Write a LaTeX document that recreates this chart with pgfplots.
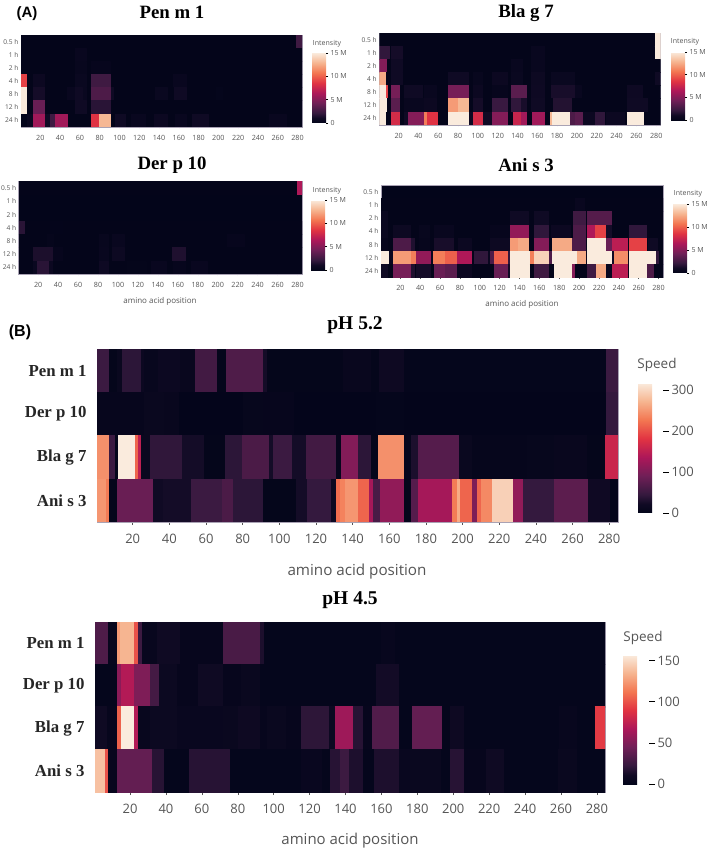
\documentclass[border=0pt]{standalone}
\usepackage{fontspec}
\setmainfont{Open Sans}
\newfontfamily\ttl{Liberation Serif}
\newfontfamily\pnl{Liberation Sans}
\usepackage{pgfplots}
\pgfplotsset{compat=1.18}

\definecolor{tk}{HTML}{555555}
\definecolor{frm}{HTML}{A9A2B4}
\definecolor{bg0}{RGB}{3,5,26}

\pgfplotsset{
  colormap={rocket}{rgb255(0cm)=(3,5,26) rgb255(0.7cm)=(16,10,36) rgb255(1.43cm)=(53,25,62) rgb255(2.86cm)=(112,31,87) rgb255(4.29cm)=(173,23,89)
    rgb255(5.71cm)=(225,51,66) rgb255(7.14cm)=(243,118,81) rgb255(8.57cm)=(246,180,143) rgb255(10cm)=(250,235,221)},
  heat/.style={
    scale only axis, y dir=reverse, axis background/.style={fill=bg0},
    xmin=0.5, xmax=284.5,
    xtick={20,40,...,280}, tick pos=bottom, tick align=outside,
    axis line style={frm, line width=0.7pt},
    x tick style={tk, line width=0.5pt}, y tick style={draw=none},
    /pgf/number format/assume math mode=true,
    /pgf/number format/1000 sep={},
    tick label style={text=tk},
    point meta=explicit, colorbar,
  },
  small/.style={
    heat, ymin=-0.5, ymax=6.5, ytick={0,...,6},
    yticklabels={0.5 h,1 h,2 h,4 h,8 h,12 h,24 h},
    x tick label style={font=\fontsize{7.2}{8}\selectfont},
    y tick label style={font=\fontsize{6.6}{8}\selectfont},
    major tick length=1.5pt, xticklabel shift=3pt, yticklabel shift=-2.5pt,
    point meta min=0, point meta max=15,
    row/.style={mesh, shader=flat corner, line width=13.6pt, forget plot},
  },
  big/.style={
    heat, ymin=-0.5, ymax=3.5, ytick={0,...,3},
    yticklabels={Pen m 1,Der p 10,Bla g 7,Ani s 3},
    x tick label style={font=\fontsize{13}{14}\selectfont},
    y tick label style={font=\ttl\bfseries\fontsize{16.8}{18}\selectfont, text=black!85},
    major tick length=3pt, yticklabel shift=4pt, xticklabel shift=5.5pt,
    row/.style={mesh, shader=flat corner, line width=43.6pt, forget plot},
  },
  smallbar/.style={
    scale only axis, width=14pt, axis line style={draw=none},
    ytick={0,5,10,15}, yticklabels={0,5 M,10 M,15 M},
    tick label style={font=\fontsize{7}{8}\selectfont, text=tk},
    ytick pos=right, tick align=outside,
    y tick style={black, line width=0.5pt}, major tick length=2pt, yticklabel shift=-1pt,
  },
  bigbar/.style={
    scale only axis, axis line style={draw=none},
    tick label style={font=\fontsize{13}{14}\selectfont, text=tk},
    /pgf/number format/assume math mode=true,
    ytick pos=right, tick align=outside,
    y tick style={black, line width=0.8pt}, major tick length=6pt,
    yticklabel shift=-1pt,
  },
}

\begin{document}
\begin{tikzpicture}[x=1pt,y=1pt]
\path[use as bounding box] (0,0) rectangle (709,850);

% Panel A: Pen m 1
\begin{axis}[small, at={(21pt,723pt)}, width=281pt, height=92pt,
  colorbar style={smallbar, at={(1.0356,0.0435)}, anchor=south west, height=70pt}]
\addplot[row] coordinates {(0.5,0)[0.05] (278,0)[2.5] (285,0)[2.5]};
\addplot[row] coordinates {(0.5,1)[0.05] (55,1)[0.5] (67,1)[0.05] (285,1)[0.05]};
\addplot[row] coordinates {(0.5,2)[0.05] (55,2)[0.4] (67,2)[0.05] (71,2)[0.3] (91,2)[0.05] (285,2)[0.05]};
\addplot[row] coordinates {(0.5,3)[9] (7,3)[0.05] (13,3)[0.7] (25,3)[0.05] (55,3)[0.6] (67,3)[0.05] (71,3)[2.5] (91,3)[0.05] (154,3)[0.5] (168,3)[0.05] (285,3)[0.05]};
\addplot[row] coordinates {(0.5,4)[15] (7,4)[0.05] (13,4)[1.2] (25,4)[0.05] (47,4)[0.5] (55,4)[1] (63,4)[0.6] (67,4)[0.05] (71,4)[3] (91,4)[1] (94,4)[0.05] (136,4)[0.6] (149,4)[0.05] (155,4)[1] (168,4)[0.05] (198,4)[0.2] (205,4)[0.05] (285,4)[0.05]};
\addplot[row] coordinates {(0.5,5)[15] (7,5)[0.05] (13,5)[4] (25,5)[0.05] (55,5)[1] (67,5)[0.05] (71,5)[1.8] (91,5)[0.05] (285,5)[0.05]};
\addplot[row] coordinates {(0.5,6)[0.1] (7,6)[0.6] (13,6)[6] (25,6)[1] (30,6)[2.5] (35,6)[6] (47.5,6)[0.05] (71,6)[8.5] (79.5,6)[13] (91,6)[0.05] (95.5,6)[1] (107,6)[0.05] (112,6)[0.5] (127,6)[0.05] (135,6)[0.7] (149,6)[0.05] (156,6)[0.5] (168,6)[0.05] (173,6)[1] (190,6)[0.05] (251,6)[0.5] (269,6)[0.05] (285,6)[0.05]};
\end{axis}

% Panel A: Bla g 7
\begin{axis}[small, at={(379.3pt,725pt)}, width=281.4pt, height=92pt,
  colorbar style={smallbar, at={(1.0366,0.054)}, anchor=south west, height=68pt}]
\addplot[row] coordinates {(0.5,0)[0.05] (278.4,0)[15] (285,0)[15]};
\addplot[row] coordinates {(0.5,1)[2] (11,1)[0.05] (12.6,1)[1.2] (24.4,1)[0.05] (154,1)[0.5] (168,1)[0.05] (278.4,1)[15] (285,1)[15]};
\addplot[row] coordinates {(0.5,2)[5] (8.3,2)[0.05] (12.6,2)[1] (24.4,2)[0.05] (133.4,2)[0.5] (146,2)[0.05] (154,2)[0.5] (168,2)[0.05] (285,2)[0.05]};
\addplot[row] coordinates {(0.5,3)[12.5] (7.2,3)[0.05] (12.6,3)[1] (24.4,3)[0.05] (70.3,3)[1] (91,3)[0.05] (95.5,3)[0.4] (105.6,3)[0.05] (114,3)[0.7] (130.7,3)[0.05] (133.4,3)[0.6] (146,3)[0.05] (154,3)[0.8] (168,3)[0.05] (174,3)[0.6] (198,3)[0.05] (278.4,3)[1] (285,3)[1]};
\addplot[row] coordinates {(0.5,4)[15] (7.2,4)[9] (9,4)[0.05] (12.6,4)[4.5] (21,4)[0.05] (25,4)[1] (45,4)[0.05] (46,4)[0.5] (58.6,4)[0.05] (70.3,4)[4.5] (91,4)[0.05] (95.5,4)[0.7] (105.6,4)[0.05] (114,4)[0.3] (130.7,4)[0.05] (133.4,4)[3.5] (150,4)[0.05] (154,4)[0.9] (168,4)[0.05] (174,4)[1.3] (198,4)[0.5] (204.6,4)[0.05] (250,4)[0.9] (266.6,4)[0.05] (285,4)[0.05]};
\addplot[row] coordinates {(0.5,5)[15] (8.3,5)[0.05] (12.6,5)[3.5] (21,5)[0.05] (25,5)[0.5] (46,5)[0.7] (58.6,5)[0.05] (70.3,5)[12] (79.7,5)[13] (91,5)[0.05] (95.5,5)[1.2] (105.6,5)[0.05] (114,5)[2.3] (130,5)[0.05] (133.4,5)[2] (144,5)[1.3] (150,5)[0.05] (154,5)[1] (168,5)[0.05] (176,5)[1.6] (194.5,5)[0.05] (250,5)[1] (271.7,5)[0.05] (285,5)[0.05]};
\addplot[row] coordinates {(0.5,6)[15] (7.2,6)[0.1] (12.6,6)[8] (21.7,6)[0.05] (25,6)[1] (29.4,6)[5] (46,6)[11] (48.5,6)[8.5] (59.3,6)[0.05] (70.3,6)[15] (91,6)[0.8] (95.5,6)[8] (105.6,6)[1] (114,6)[5] (130.7,6)[0.05] (135,6)[7.5] (144,6)[6] (150,6)[0.05] (155,6)[6] (168,6)[0.05] (172.7,6)[13] (175,6)[15] (193,6)[3] (198,6)[3.5] (205.6,6)[0.7] (218,6)[2] (228,6)[0.05] (229.7,6)[0.7] (248,6)[0.05] (250,6)[15] (267.7,6)[0.05] (285,6)[0.05]};
\end{axis}

% Panel A: Der p 10
\begin{axis}[small, at={(18.7pt,576pt)}, width=283.3pt, height=92.3pt,
  colorbar style={smallbar, at={(1.0325,0.043)}, anchor=south west, height=70pt}]
\addplot[row] coordinates {(0.5,0)[0.05] (279,0)[6.5] (285,0)[6.5]};
\addplot[row] coordinates {(0.5,3)[1.8] (7,3)[0.05] (32,3)[0.1] (45,3)[0.05] (285,3)[0.05]};
\addplot[row] coordinates {(0.5,4)[0.05] (29,4)[0.25] (36,4)[0.05] (81,4)[0.4] (91,4)[0.05] (94,4)[0.5] (107,4)[0.05] (209,4)[0.3] (227,4)[0.05] (285,4)[0.05]};
\addplot[row] coordinates {(0.5,5)[0.05] (14.5,5)[1.4] (35,5)[0.3] (45,5)[0.05] (81,5)[0.5] (91,5)[0.05] (94,5)[0.8] (107,5)[0.05] (154.5,5)[1.5] (168,5)[0.05] (285,5)[0.05]};
\addplot[row] coordinates {(0.5,6)[0.05] (14.5,6)[0.6] (19,6)[1.8] (31,6)[0.7] (35,6)[0.05] (81,6)[0.9] (91,6)[0.05] (109,6)[0.15] (129,6)[0.05] (133,6)[0.5] (149,6)[0.05] (155,6)[0.3] (168,6)[0.05] (173,6)[0.5] (190,6)[0.05] (285,6)[0.05]};
\end{axis}

% Panel A: Ani s 3
\begin{axis}[small, at={(381pt,572.3pt)}, width=282pt, height=92.7pt,
  colorbar style={smallbar, at={(1.0355,0.051)}, anchor=south west, height=69pt}]
\addplot[row] coordinates {(0.5,1)[0.05] (196,1)[0.5] (206.3,1)[0.05] (285,1)[0.05]};
\addplot[row] coordinates {(0.5,2)[0.6] (7.6,2)[0.05] (130.4,2)[1] (149.4,2)[0.05] (154.4,2)[1] (169.5,2)[0.05] (193.9,2)[2.5] (207.3,2)[0.05] (208,2)[3.3] (233.4,2)[0.05] (285,2)[0.05]};
\addplot[row] coordinates {(0.5,3)[0.6] (7.6,3)[0.05] (12.3,3)[0.8] (31,3)[0.05] (38.4,3)[0.4] (50,3)[0.05] (53.4,3)[0.5] (74.5,3)[0.05] (110.3,3)[0.3] (130.4,3)[5.5] (149.4,3)[0.05] (154.4,3)[2] (169.5,3)[0.05] (172,3)[0.7] (192.2,3)[0.05] (193.9,3)[3] (207.3,3)[0.05] (208,3)[6.5] (216.3,3)[9] (227.4,3)[1.2] (233.4,3)[0.05] (250,3)[2] (268.5,3)[0.05] (285,3)[0.05]};
\addplot[row] coordinates {(0.5,4)[0.3] (7.6,4)[0.05] (12.3,4)[3] (31,4)[1.5] (35,4)[0.05] (38.4,4)[0.3] (50,4)[0.05] (53.4,4)[1.3] (74.5,4)[0.05] (78,4)[0.7] (92,4)[0.05] (110.3,4)[0.8] (130.4,4)[12] (138,4)[12.5] (149.4,4)[0.05] (154.4,4)[5] (169.5,4)[0.05] (172.8,4)[12.5] (192.9,4)[3] (207.3,4)[0.05] (208,4)[15] (227.4,4)[4] (233.4,4)[7] (249,4)[0.05] (250,4)[9] (268.5,4)[0.05] (269,4)[1] (279,4)[0.05] (285,4)[0.05]};
\addplot[row] coordinates {(0.5,5)[15] (8.3,5)[0.5] (12.3,5)[12] (31,5)[11] (36,5)[5.5] (50.4,5)[0.5] (52.4,5)[11] (65,5)[10] (76.9,5)[6.5] (92,5)[0.05] (94.6,5)[2] (108.6,5)[0.5] (110.3,5)[3] (114.3,5)[10] (128.7,5)[2] (130.4,5)[15] (150.4,5)[11] (154.4,5)[14] (169.5,5)[3] (172.8,5)[15] (198.3,5)[12.5] (207.3,5)[0.5] (208,5)[15] (233.4,5)[1] (235,5)[11.5] (249,5)[0.5] (250,5)[15] (277.5,5)[2] (280.9,5)[0.05] (285,5)[0.05]};
\addplot[row] coordinates {(0.5,6)[1] (7.6,6)[0.05] (12.3,6)[4.5] (31,6)[1.5] (35,6)[0.05] (36,6)[1.2] (50.4,6)[0.05] (53.4,6)[4] (65,6)[3.5] (76.9,6)[0.7] (92,6)[0.05] (114.3,6)[4] (128.7,6)[1] (130.4,6)[15] (150.4,6)[0.05] (154.4,6)[2.5] (169.5,6)[0.05] (174.8,6)[15] (192.9,6)[5] (195.6,6)[0.1] (208,6)[2.5] (217.3,6)[12.5] (227.4,6)[0.5] (233.4,6)[7] (249,6)[0.05] (250,6)[15] (268.5,6)[3] (275.9,6)[0.1] (285,6)[0.1]};
\end{axis}

% Panel B: pH 5.2
\begin{axis}[big, at={(97pt,328pt)}, width=521pt, height=173pt, xmax=284.8,
  point meta min=0, point meta max=317,
  colorbar style={bigbar, at={(1.0384,0.052)}, anchor=south west, width=25pt, height=130pt,
    ytick={0,100,200,300}}]
\addplot[row] coordinates {(0.5,0)[50] (7.3,0)[3] (11.6,0)[12] (14,0)[40] (24.4,0)[15] (26,0)[8] (34,0)[15] (46,0)[10] (54,0)[55] (66,0)[3] (71,0)[65] (91,0)[25] (93,0)[3] (135,0)[10] (150,0)[3] (154.5,0)[18] (168,0)[4] (278,0)[50] (285,0)[50]};
\addplot[row] coordinates {(0.5,1)[6] (26,1)[12] (37,1)[10] (45,1)[2] (80,1)[7] (91,1)[6] (108,1)[2] (153,1)[4] (168,1)[2] (278,1)[45] (285,1)[45]};
\addplot[row] coordinates {(0.5,2)[245] (7.3,2)[50] (10.4,2)[3] (12.2,2)[317] (21.3,2)[215] (23,2)[150] (24.4,2)[12] (29.5,2)[42] (47,2)[25] (59,2)[3] (70.4,2)[40] (79.5,2)[62] (94.5,2)[25] (96.4,2)[50] (106.7,2)[25] (114.5,2)[55] (131,2)[5] (133.5,2)[105] (143,2)[40] (150,2)[3] (154,2)[245] (168,2)[5] (172,2)[30] (175.5,2)[70] (198,2)[12] (205,2)[5] (235,2)[7] (250,2)[10] (268,2)[3] (277.7,2)[160] (285,2)[160]};
\addplot[row] coordinates {(0.5,3)[250] (5.5,3)[230] (7.3,3)[3] (11.6,3)[85] (31,3)[22] (36.7,3)[25] (52,3)[50] (68.5,3)[62] (74.5,3)[40] (91,3)[3] (109,3)[25] (115,3)[45] (128,3)[15] (131,3)[220] (133,3)[235] (136,3)[250] (143,3)[215] (149,3)[130] (151,3)[60] (155,3)[115] (168,3)[3] (172,3)[70] (175.5,3)[130] (194,3)[230] (197,3)[265] (198.5,3)[215] (205,3)[100] (208,3)[215] (210,3)[240] (216,3)[295] (227.5,3)[115] (233,3)[45] (250,3)[75] (268.5,3)[20] (280.5,3)[2] (285,3)[2]};
\end{axis}

% Panel B: pH 4.5
\begin{axis}[big, at={(95pt,58pt)}, width=510pt, height=170pt,
  point meta min=0, point meta max=157,
  colorbar style={bigbar, at={(1.0353,0.047)}, anchor=south west, width=26pt, height=129pt,
    ytick={0,50,100,150}}]
\addplot[row] coordinates {(0.5,0)[32] (8,0)[3] (12.6,0)[125] (14.4,0)[135] (22,0)[100] (24.6,0)[25] (26.5,0)[4] (35,0)[10] (48,0)[3] (72,0)[30] (92.5,0)[15] (94.5,0)[2] (160,0)[4] (167.5,0)[2] (285,0)[2]};
\addplot[row] coordinates {(0.5,1)[2] (13,1)[55] (15,1)[70] (22,1)[50] (31,1)[28] (36,1)[8] (46,1)[3] (58,1)[10] (72,1)[3] (82,1)[6] (92.5,1)[2] (157,1)[12] (170,1)[2] (285,1)[2]};
\addplot[row] coordinates {(0.5,2)[10] (7,2)[3] (13,2)[105] (15,2)[157] (22,2)[70] (24.6,2)[4] (31,2)[8] (46,2)[5] (72,2)[6] (80,2)[9] (92.5,2)[3] (96,2)[6] (107,2)[3] (115,2)[20] (130.6,2)[8] (134,2)[62] (144.2,2)[18] (150,2)[3] (155,2)[33] (170,2)[2] (177,2)[40] (194,2)[2] (198,2)[9] (206,2)[2] (259,2)[4] (269,2)[2] (278.7,2)[92] (285,2)[92]};
\addplot[row] coordinates {(0.5,3)[140] (6,3)[100] (8,3)[3] (13,3)[40] (32,3)[18] (39,3)[2] (53,3)[18] (75.4,3)[2] (115,3)[5] (127,3)[2] (131.5,3)[18] (137,3)[25] (142,3)[15] (150,3)[2] (156,3)[15] (170,3)[5] (176,3)[6] (193,3)[2] (198,3)[18] (206,3)[3] (218,3)[10] (228,3)[2] (258.6,3)[6] (269,3)[2] (285,3)[2]};
\end{axis}

% titles and labels
\node[font=\ttl\bfseries\fontsize{18.8}{20}\selectfont] at (172,838) {Pen m 1};
\node[font=\ttl\bfseries\fontsize{18.8}{20}\selectfont] at (526,837) {Bla g 7};
\node[font=\ttl\bfseries\fontsize{18.8}{20}\selectfont] at (172,685) {Der p 10};
\node[font=\ttl\bfseries\fontsize{18.8}{20}\selectfont] at (526,685) {Ani s 3};
\node[font=\ttl\bfseries\fontsize{19.5}{20}\selectfont] at (355,525) {pH 5.2};
\node[font=\ttl\bfseries\fontsize{19.5}{20}\selectfont] at (350,250) {pH 4.5};
\node[font=\pnl\bfseries\fontsize{15}{16}\selectfont] at (27,836) {(A)};
\node[font=\pnl\bfseries\fontsize{16}{17}\selectfont] at (20,518) {(B)};
\node[font=\fontsize{7}{8}\selectfont, text=tk] at (327,806) {Intensity};
\node[font=\fontsize{7}{8}\selectfont, text=tk] at (685,808) {Intensity};
\node[font=\fontsize{7}{8}\selectfont, text=tk] at (327,659) {Intensity};
\node[font=\fontsize{7}{8}\selectfont, text=tk] at (688,656) {Intensity};
\node[font=\fontsize{8}{9}\selectfont, text=tk] at (160,549) {amino acid position};
\node[font=\fontsize{8}{9}\selectfont, text=tk] at (522,546) {amino acid position};
\node[font=\fontsize{13.5}{15}\selectfont, text=tk] at (657,485) {Speed};
\node[font=\fontsize{13.5}{15}\selectfont, text=tk] at (643,212) {Speed};
\node[font=\fontsize{15.2}{17}\selectfont, text=tk] at (357,278) {amino acid position};
\node[font=\fontsize{15}{17}\selectfont, text=tk] at (350,9) {amino acid position};
\end{tikzpicture}
\end{document}
